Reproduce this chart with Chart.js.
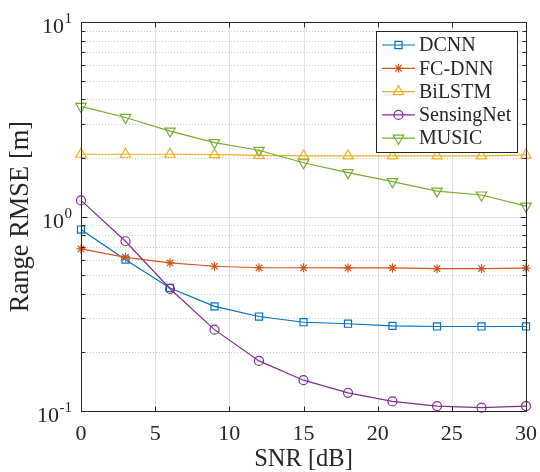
<!DOCTYPE html>
<html>
<head>
<meta charset="UTF-8" />
<title>Range RMSE vs SNR</title>
<script src="https://cdn.jsdelivr.net/npm/chart.js"></script>
<style>
  html, body { margin: 0; padding: 0; background: #fff; }
</style>
</head>
<body>
<canvas id="rmse_chart" width="540" height="472"></canvas>

<script>
// SNR points (dB)
const snr = [0, 3, 6, 9, 12, 15, 18, 21, 24, 27, 30];

// range RMSE per method (m)
const dcnn      = [0.857, 0.600, 0.429, 0.345, 0.306, 0.286, 0.281, 0.274, 0.272, 0.272, 0.272];
const fcdnn     = [0.681, 0.617, 0.577, 0.555, 0.545, 0.545, 0.544, 0.544, 0.539, 0.540, 0.543];
const bilstm    = [2.09, 2.09, 2.09, 2.08, 2.06, 2.05, 2.05, 2.05, 2.05, 2.05, 2.07];
const sensing   = [1.21, 0.746, 0.425, 0.262, 0.181, 0.144, 0.124, 0.112, 0.106, 0.104, 0.106];
const music     = [3.68, 3.23, 2.75, 2.40, 2.19, 1.89, 1.68, 1.51, 1.35, 1.29, 1.13];

const names = ["DCNN", "FC-DNN", "BiLSTM", "SensingNet", "MUSIC"];

// axis ticks
const xTicks = [0, 5, 10, 15, 20, 25, 30];
const yDecades = [0.1, 1, 10];
const yTickLabels = [["10", "-1"], ["10", "0"], ["10", "1"]];

const AX = "#262626";
const SERIF = "'Liberation Serif', 'Times New Roman', serif";

const styles = [
    { color: "#0072BD", pointStyle: "rect",     radius: 5,   rotation: 0 },
    { color: "#D95319", pointStyle: "star",     radius: 4.5, rotation: 0 },
    { color: "#EDB120", pointStyle: "triangle", radius: 6,   rotation: 0 },
    { color: "#7E2F8E", pointStyle: "circle",   radius: 4.5, rotation: 0 },
    { color: "#77AC30", pointStyle: "triangle", radius: 6,   rotation: 180 }
];

const seriesValues = [dcnn, fcdnn, bilstm, sensing, music];

const datasets = seriesValues.map((vals, i) => ({
    label: names[i],
    data: snr.map((s, k) => ({ x: s, y: vals[k] })),
    borderColor: styles[i].color,
    borderWidth: 1.2,
    pointStyle: styles[i].pointStyle,
    pointRadius: styles[i].radius,
    pointRotation: styles[i].rotation,
    pointBorderColor: styles[i].color,
    pointBackgroundColor: "rgba(0,0,0,0)",
    pointBorderWidth: 1.2,
    tension: 0,
    clip: false,
    order: 5 - i
}));

// grid, box, ticks, labels and legend, MATLAB style
const matlabAxes = {
    id: "matlabAxes",
    beforeDatasetsDraw(chart) {
        const { ctx, chartArea: a, scales: { x, y } } = chart;
        ctx.save();
        ctx.lineWidth = 1;

        // major grid
        ctx.strokeStyle = "#e3e3e3";
        xTicks.forEach(t => {
            const px = Math.round(x.getPixelForValue(t)) + 0.5;
            ctx.beginPath(); ctx.moveTo(px, a.top); ctx.lineTo(px, a.bottom); ctx.stroke();
        });
        yDecades.forEach(t => {
            const py = Math.round(y.getPixelForValue(t)) + 0.5;
            ctx.beginPath(); ctx.moveTo(a.left, py); ctx.lineTo(a.right, py); ctx.stroke();
        });

        // minor grid (dotted)
        ctx.strokeStyle = "#cfcfcf";
        ctx.setLineDash([1, 2]);
        [0.1, 1].forEach(d => {
            for (let k = 2; k <= 9; k++) {
                const py = Math.round(y.getPixelForValue(k * d)) + 0.5;
                ctx.beginPath(); ctx.moveTo(a.left, py); ctx.lineTo(a.right, py); ctx.stroke();
            }
        });
        ctx.restore();
    },
    afterDatasetsDraw(chart) {
        const { ctx, chartArea: a, scales: { x, y } } = chart;
        ctx.save();

        // box
        ctx.strokeStyle = AX;
        ctx.lineWidth = 1;
        const L = Math.round(a.left) + 0.5, R = Math.round(a.right) + 0.5;
        const T = Math.round(a.top) + 0.5, B = Math.round(a.bottom) + 0.5;
        ctx.strokeRect(L, T, R - L, B - T);

        // tick marks pointing inwards
        ctx.beginPath();
        xTicks.forEach(t => {
            const px = Math.round(x.getPixelForValue(t)) + 0.5;
            ctx.moveTo(px, B); ctx.lineTo(px, B - 5);
            ctx.moveTo(px, T); ctx.lineTo(px, T + 5);
        });
        yDecades.forEach(t => {
            const py = Math.round(y.getPixelForValue(t)) + 0.5;
            ctx.moveTo(L, py); ctx.lineTo(L + 6, py);
            ctx.moveTo(R, py); ctx.lineTo(R - 6, py);
        });
        [0.1, 1].forEach(d => {
            for (let k = 2; k <= 9; k++) {
                const py = Math.round(y.getPixelForValue(k * d)) + 0.5;
                ctx.moveTo(L, py); ctx.lineTo(L + 4, py);
                ctx.moveTo(R, py); ctx.lineTo(R - 4, py);
            }
        });
        ctx.stroke();

        // x tick labels
        ctx.fillStyle = AX;
        ctx.font = "22px " + SERIF;
        ctx.textAlign = "center";
        ctx.textBaseline = "alphabetic";
        xTicks.forEach(t => ctx.fillText(String(t), x.getPixelForValue(t), a.bottom + 29));

        // y tick labels with exponents
        yDecades.forEach((t, i) => {
            const py = y.getPixelForValue(t);
            const [base, exp] = yTickLabels[i];
            ctx.textAlign = "right";
            ctx.font = "15px " + SERIF;
            const right = a.left - 9;
            const ew = ctx.measureText(exp).width;
            ctx.fillText(exp, right, py + 1);
            ctx.font = "22px " + SERIF;
            ctx.fillText(base, right - ew - 0.5, py + 11);
        });

        // axis titles
        ctx.textAlign = "center";
        ctx.font = "24.5px " + SERIF;
        ctx.fillText("SNR [dB]", (a.left + a.right) / 2, a.bottom + 55);
        ctx.save();
        ctx.font = "26.5px " + SERIF;
        ctx.translate(28, (a.top + a.bottom) / 2);
        ctx.rotate(-Math.PI / 2);
        ctx.fillText("Range RMSE [m]", 0, 0);
        ctx.restore();

        // legend
        const lx = 376.5, ly = 31.5, lw = 141, lh = 121;
        ctx.fillStyle = "#fff";
        ctx.fillRect(lx, ly, lw, lh);
        ctx.strokeStyle = AX;
        ctx.lineWidth = 1;
        ctx.strokeRect(lx, ly, lw, lh);
        ctx.font = "20px " + SERIF;
        ctx.textAlign = "left";
        ctx.textBaseline = "middle";
        names.forEach((n, i) => {
            const cy = 45 + i * 23.3;
            const s = styles[i];
            ctx.strokeStyle = s.color;
            ctx.lineWidth = 1.2;
            ctx.beginPath(); ctx.moveTo(382, cy); ctx.lineTo(415, cy); ctx.stroke();
            ctx.fillStyle = "rgba(0,0,0,0)";
            Chart.helpers.drawPoint(ctx, {
                pointStyle: s.pointStyle, radius: s.radius, rotation: s.rotation, borderWidth: 1.2
            }, 398.5, cy);
            ctx.fillStyle = AX;
            ctx.fillText(n, 419, cy + 1);
        });

        ctx.restore();
    }
};

new Chart(document.getElementById("rmse_chart").getContext("2d"), {
    type: "line",
    data: { datasets },
    options: {
        responsive: false,
        animation: false,
        events: [],
        layout: { autoPadding: false, padding: { left: 81, top: 22, right: 14, bottom: 61 } },
        scales: {
            x: { type: "linear", min: 0, max: 30, display: false },
            y: { type: "logarithmic", min: 0.1, max: 10, display: false }
        },
        plugins: { legend: { display: false }, tooltip: { enabled: false } }
    },
    plugins: [matlabAxes]
});
</script>
</body>
</html>
